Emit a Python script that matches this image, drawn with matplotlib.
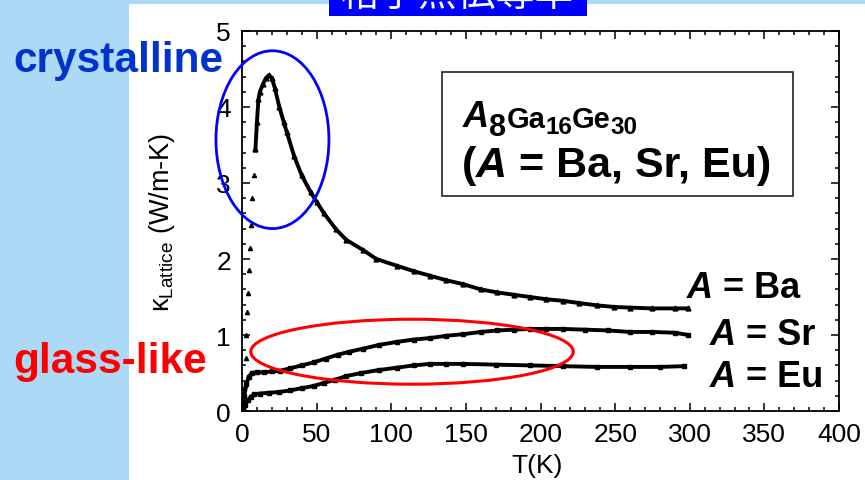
import matplotlib
matplotlib.use("Agg")
import matplotlib.pyplot as plt
from matplotlib.patches import Ellipse, Rectangle
from matplotlib.ticker import MultipleLocator

# ---------------- data ----------------
ba_T = [0.5, 1.5, 2.5, 3.0, 3.5, 4.0, 5.0, 5.5, 6.0, 7.0, 8.0, 9.0, 10.0, 11.0, 12.0, 14.0,
        16.0, 18.0, 20.0, 22.0, 25.0, 28.0, 30.0, 35.0, 40.0, 46.0, 50.0, 55.0, 63.0, 70.0,
        81.0, 90.0, 104.0, 115.0, 126.0, 137.0, 148.0, 160.0, 171.0, 182.0, 193.0, 204.0,
        215.0, 226.0, 238.0, 249.0, 260.0, 275.0, 290.0, 299.0]
ba_k = [0.05, 0.30, 0.70, 1.00, 1.30, 1.55, 1.85, 2.15, 2.45, 2.80, 3.10, 3.45, 3.80, 4.10,
        4.20, 4.30, 4.38, 4.42, 4.38, 4.25, 4.00, 3.80, 3.67, 3.35, 3.10, 2.88, 2.75, 2.60,
        2.39, 2.25, 2.12, 2.00, 1.91, 1.84, 1.78, 1.72, 1.67, 1.60, 1.56, 1.53, 1.50, 1.47,
        1.45, 1.42, 1.39, 1.37, 1.36, 1.35, 1.35, 1.35]

sr_T = [0.5, 1.5, 3.0, 4.5, 6.5, 10.0, 15.0, 20.0, 25.5, 32.0, 40.0, 48.0, 56.0, 64.0, 72.0,
        81.0, 92.0, 104.0, 115.0, 126.0, 137.0, 148.0, 160.0, 171.0, 182.0, 193.0, 204.0,
        215.0, 230.0, 245.0, 260.0, 275.0, 290.0, 299.0]
sr_k = [0.05, 0.20, 0.35, 0.45, 0.50, 0.51, 0.51, 0.52, 0.53, 0.56, 0.60, 0.64, 0.69, 0.74,
        0.78, 0.82, 0.87, 0.91, 0.94, 0.96, 0.99, 1.01, 1.04, 1.06, 1.07, 1.08, 1.08, 1.08,
        1.07, 1.06, 1.04, 1.04, 1.03, 1.00]

eu_T = [0.5, 2.0, 4.0, 6.0, 8.0, 12.0, 18.0, 25.0, 32.0, 40.0, 48.0, 55.0, 62.0, 70.0, 80.0,
        92.0, 104.0, 115.0, 126.0, 137.0, 148.0, 170.0, 193.0, 215.0, 238.0, 260.0, 280.0,
        296.0]
eu_k = [0.02, 0.08, 0.14, 0.19, 0.22, 0.23, 0.24, 0.25, 0.27, 0.30, 0.33, 0.37, 0.41, 0.46,
        0.50, 0.54, 0.57, 0.60, 0.62, 0.62, 0.62, 0.61, 0.60, 0.59, 0.58, 0.58, 0.58, 0.59]

x_ticks = [0, 50, 100, 150, 200, 250, 300, 350, 400]
y_ticks = [0, 1, 2, 3, 4, 5]

W, H = 865, 481
FONT = "Liberation Sans"

fig = plt.figure(figsize=(W / 100, H / 100), dpi=100)
fig.patch.set_facecolor("#abd9f6")

# white slide area
fig.patches.append(Rectangle((129 / W, 0), 1 - 129 / W, 1 - 5 / H, transform=fig.transFigure,
                             facecolor="white", edgecolor="none", zorder=-2))
# banner
fig.patches.append(Rectangle((329 / W, 1 - 16.7 / H), (587 - 329) / W, 16.7 / H,
                             transform=fig.transFigure, facecolor="#0000ff",
                             edgecolor="none", zorder=-1))
fig.text(458 / W, 1 - (-5) / H, "格子熱伝導率", color="white", fontsize=28,
         family=["Noto Sans CJK JP", "DejaVu Sans"], ha="center", va="center", zorder=2)

ax = fig.add_axes([242 / W, 1 - 412 / H, 597 / W, 380 / H])
ax.set_facecolor("none")
ax.set_zorder(1)

# Ba: sparse rising points, then dense curve
ax.plot(ba_T[:12], ba_k[:12], linestyle="none", marker="^", ms=3, color="black")
ax.plot(ba_T[11:], ba_k[11:], color="black", lw=2.8, marker="^", ms=3.5)
ax.plot(sr_T, sr_k, color="black", lw=2.8, marker="s", ms=2.5)
ax.plot(eu_T, eu_k, color="black", lw=2.8, marker="s", ms=2.5)

ax.set_xlim(0, 400)
ax.set_ylim(0, 5)
ax.set_xticks(x_ticks)
ax.set_yticks(y_ticks)
ax.xaxis.set_minor_locator(MultipleLocator(10))
ax.yaxis.set_minor_locator(MultipleLocator(0.2))
ax.tick_params(which="both", direction="in", top=True, right=True, width=1.1)
ax.tick_params(which="major", length=6, labelsize=19, pad=8)
ax.tick_params(which="minor", length=3)
for lab in ax.get_xticklabels() + ax.get_yticklabels():
    lab.set_family(FONT)
for sp in ax.spines.values():
    sp.set_linewidth(1.3)

ax.set_xlabel("T(K)", fontsize=19, family=FONT)
ax.xaxis.set_label_coords(0.495, -0.11)
ax.set_ylabel("κ$_{\\mathregular{Lattice}}$ (W/m-K)", fontsize=19.5, family=FONT)
ax.yaxis.set_label_coords(-0.109, 0.5)

# ellipses
ax.add_patch(Ellipse((20.4, 3.57), 75.7, 2.34, fill=False, edgecolor="#0000ff", lw=2.0,
                     clip_on=False, zorder=5))
ax.add_patch(Ellipse((113.9, 0.78), 216, 0.855, fill=False, edgecolor="#ff0000", lw=2.2,
                     clip_on=False, zorder=5))

# box
ax.add_patch(Rectangle((0.3345, 0.565), 0.588, 0.3263, transform=ax.transAxes,
                       fill=False, edgecolor="#222222", lw=1.2, zorder=4))

fig.canvas.draw()
renderer = fig.canvas.get_renderer()


def seq(x, y, pieces, color="black"):
    for s, style, size, dy in pieces:
        t = fig.text(x / W, 1 - (y + dy) / H, s, fontsize=size, fontweight="bold",
                     fontstyle=style, color=color, family=FONT, ha="left", va="baseline",
                     zorder=6)
        bb = t.get_window_extent(renderer=renderer)
        x += bb.width


seq(463, 127, [("A", "italic", 26, 0), ("8", "normal", 22, 9), ("Ga", "normal", 21, 1),
               ("16", "normal", 17.5, 7), ("Ge", "normal", 21, 1), ("30", "normal", 17.5, 7)])
seq(462, 177, [("(", "normal", 31, 0), ("A", "italic", 31, 0), (" = Ba, Sr, Eu)", "normal", 31, 0)])
seq(687, 298, [("A", "italic", 26, 0), (" = Ba", "normal", 26, 0)])
seq(710, 345, [("A", "italic", 26, 0), (" = Sr", "normal", 26, 0)])
seq(710, 387, [("A", "italic", 26, 0), (" = Eu", "normal", 26, 0)])

fig.text(13 / W, 1 - 72 / H, "crystalline", fontsize=30.5, fontweight="bold", color="#0033cc",
         family=FONT, ha="left", va="baseline", zorder=6)
fig.text(13 / W, 1 - 373 / H, "glass-like", fontsize=30.5, fontweight="bold", color="#ff0000",
         family=FONT, ha="left", va="baseline", zorder=6)

fig.savefig("out.png", dpi=100, facecolor=fig.get_facecolor())
